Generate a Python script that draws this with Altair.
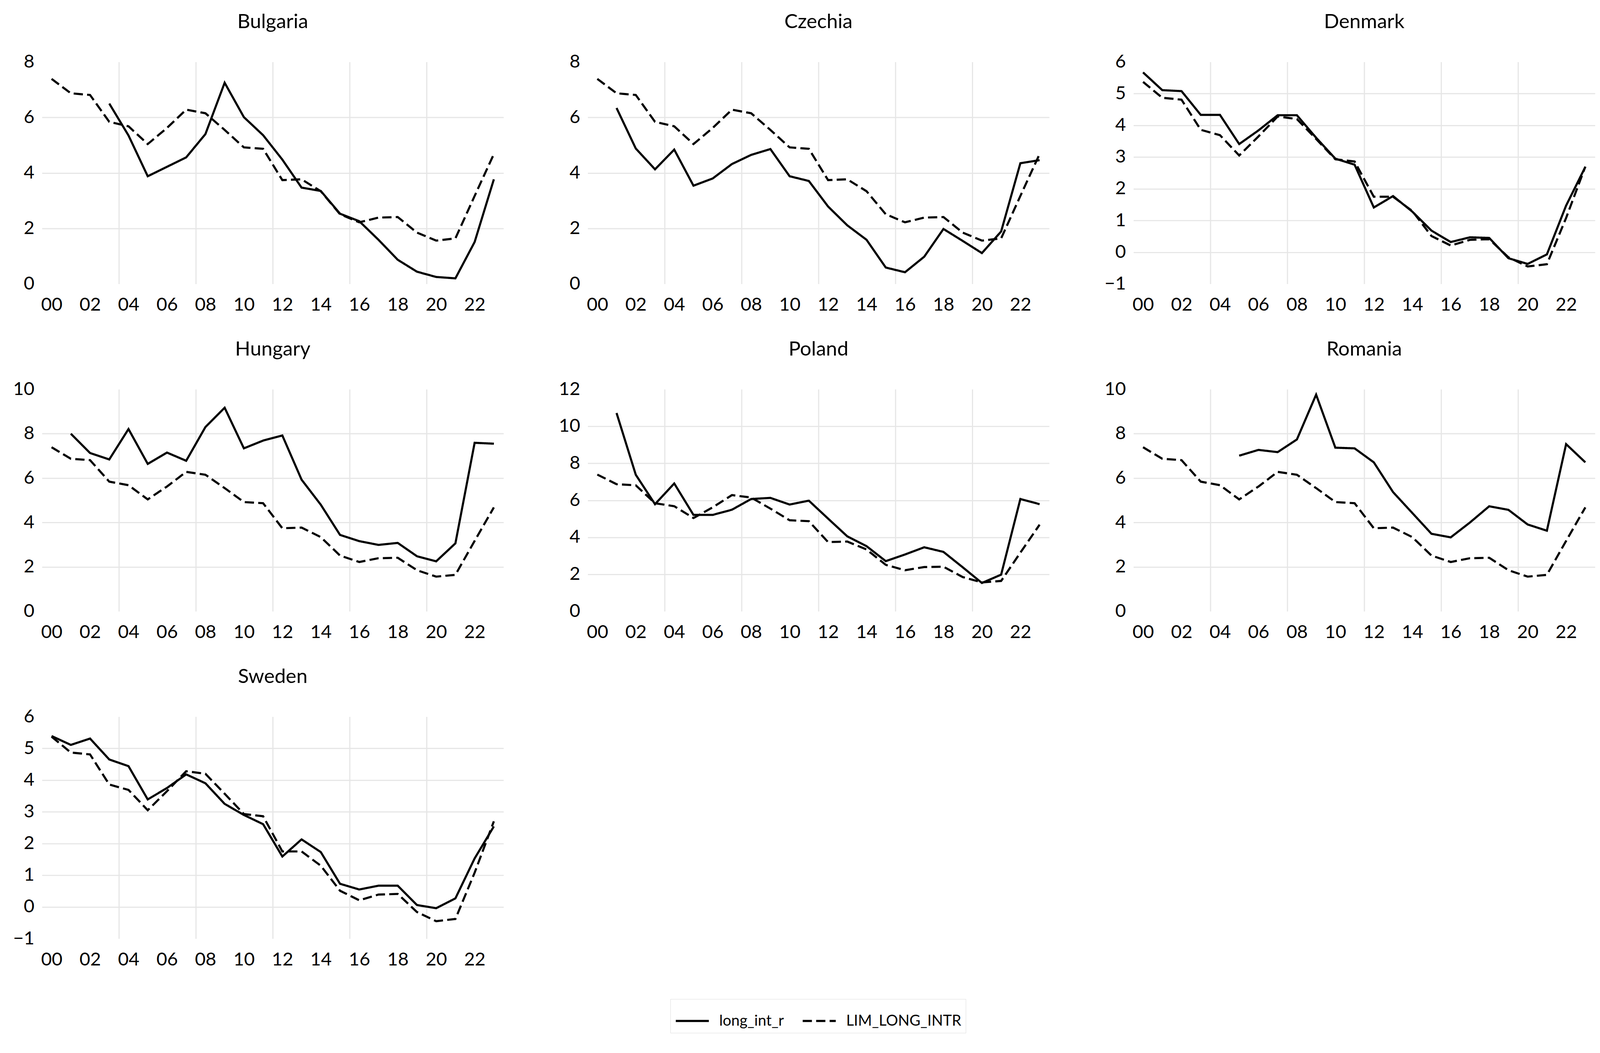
import altair as alt
import pandas as pd

years = list(range(0, 24))
countries = ["Bulgaria", "Czechia", "Denmark", "Hungary", "Poland", "Romania", "Sweden"]
series_names = ["long_int_r", "LIM_LONG_INTR"]

N = None
long_bg = [N, N, N, 6.50, 5.35, 3.88, 4.22, 4.56, 5.40, 7.25, 6.01, 5.36, 4.48, 3.47, 3.35, 2.53, 2.26, 1.59, 0.87, 0.44, 0.25, 0.20, 1.51, 3.77]
long_cz = [N, 6.34, 4.88, 4.13, 4.84, 3.54, 3.80, 4.32, 4.65, 4.86, 3.88, 3.71, 2.79, 2.11, 1.59, 0.59, 0.42, 0.98, 1.98, 1.55, 1.11, 1.89, 4.35, 4.46]
long_dk = [5.67, 5.11, 5.08, 4.33, 4.33, 3.41, 3.84, 4.32, 4.32, 3.61, 2.95, 2.76, 1.41, 1.77, 1.28, 0.68, 0.32, 0.47, 0.45, -0.19, -0.37, -0.07, 1.47, 2.69]
long_hu = [N, 8.00, 7.13, 6.84, 8.21, 6.64, 7.15, 6.78, 8.30, 9.17, 7.34, 7.69, 7.92, 5.93, 4.80, 3.44, 3.16, 2.99, 3.08, 2.48, 2.25, 3.06, 7.59, 7.55]
long_pl = [N, 10.72, 7.38, 5.79, 6.91, 5.21, 5.21, 5.49, 6.07, 6.13, 5.77, 5.98, 5.01, 4.05, 3.52, 2.71, 3.07, 3.46, 3.21, 2.38, 1.53, 1.98, 6.07, 5.79]
long_ro = [N, N, N, N, N, 7.01, 7.27, 7.17, 7.74, 9.76, 7.37, 7.34, 6.71, 5.37, 4.43, 3.49, 3.33, 4.00, 4.73, 4.57, 3.91, 3.63, 7.53, 6.71]
long_se = [5.39, 5.11, 5.31, 4.65, 4.44, 3.39, 3.75, 4.18, 3.90, 3.25, 2.90, 2.61, 1.59, 2.13, 1.73, 0.73, 0.55, 0.67, 0.67, 0.06, -0.04, 0.27, 1.53, 2.54]

lim_cee = [7.39, 6.87, 6.81, 5.84, 5.68, 5.04, 5.62, 6.28, 6.15, 5.55, 4.92, 4.87, 3.74, 3.77, 3.34, 2.51, 2.22, 2.39, 2.41, 1.85, 1.56, 1.64, 3.17, 4.68]
lim_nord = [5.37, 4.87, 4.81, 3.86, 3.69, 3.05, 3.65, 4.28, 4.20, 3.57, 2.93, 2.86, 1.75, 1.75, 1.30, 0.51, 0.21, 0.39, 0.41, -0.16, -0.45, -0.38, 1.08, 2.70]

long_vals = [long_bg, long_cz, long_dk, long_hu, long_pl, long_ro, long_se]
lim_vals = [lim_cee, lim_cee, lim_nord, lim_cee, lim_cee, lim_cee, lim_nord]
y_lo = [0, 0, -1, 0, 0, 0, -1]
y_hi = [8, 8, 6, 10, 12, 10, 6]
y_step = [2, 2, 1, 2, 2, 2, 1]

x_label_years = list(range(0, 23, 2))
x_grid_years = [3.5, 7.5, 11.5, 15.5, 19.5]

FONT = "Lato"
PW, PH = 1200, 577
GRID = "#e6e6e6"

legend = alt.Legend(
    orient="none", legendX=1634, legendY=2436, direction="horizontal", title=None,
    symbolType="stroke", symbolStrokeWidth=5.5, symbolSize=7400, symbolStrokeColor="black",
    labelFontSize=39, labelFont=FONT, labelColor="black", labelLimit=600,
    strokeColor="#dcdcdc", padding=11, columnPadding=36, labelOffset=24, symbolOpacity=1,
)

panels = []
for i, name in enumerate(countries):
    rows = []
    for s, vals in zip(series_names, [long_vals[i], lim_vals[i]]):
        for yr, v in zip(years, vals):
            if v is not None:
                rows.append({"year": yr, "value": v, "series": s})
    df = pd.DataFrame(rows)
    lo, hi, st = y_lo[i], y_hi[i], y_step[i]
    xscale = alt.Scale(domain=[-0.5, 23.5], nice=False, zero=False)
    lines = alt.Chart(df).mark_line(strokeWidth=5.5, color="black").encode(
        x=alt.X("year:Q", scale=xscale,
                axis=alt.Axis(orient="bottom", values=x_label_years, grid=False, ticks=False, domain=False,
                              title=None, labelFontSize=48, labelFont=FONT, labelColor="black",
                              labelPadding=31, labelExpr="datum.value < 10 ? '0' + datum.value : '' + datum.value",
                              minExtent=80, maxExtent=80)),
        y=alt.Y("value:Q", scale=alt.Scale(domain=[lo, hi], nice=False, zero=False),
                axis=alt.Axis(values=list(range(lo, hi + 1, st)), grid=True, gridColor=GRID, gridWidth=3,
                              gridOpacity=alt.condition(f"datum.value == {lo} || datum.value == {hi}", alt.value(0), alt.value(1)),
                              ticks=False, domain=False, title=None, labelFontSize=48, labelFont=FONT,
                              labelColor="black", labelPadding=20, minExtent=70, maxExtent=70)),
        strokeDash=alt.StrokeDash("series:N",
                                  scale=alt.Scale(domain=series_names, range=[[1, 0], [24, 11]]),
                                  legend=legend),
    )
    vgrid = alt.Chart(df).mark_rule(opacity=0).encode(
        x=alt.X("year:Q", scale=xscale,
                axis=alt.Axis(orient="top", values=x_grid_years, grid=True, gridColor=GRID, gridWidth=3,
                              labels=False, ticks=False, domain=False, title=None, minExtent=0, maxExtent=0)),
    )
    p = alt.layer(vgrid, lines).resolve_axis(x="independent").properties(
        width=PW, height=PH,
        title=alt.TitleParams(name, fontSize=52, fontWeight="normal", font=FONT, color="black",
                              anchor="middle", offset=53),
    )
    panels.append(p)

chart = alt.concat(*panels, columns=3, spacing={"row": 64, "column": 143}).resolve_scale(
    strokeDash="shared"
).properties(
    padding={"left": 25, "top": 2, "right": 5, "bottom": 5},
    background="white",
).configure_view(stroke=None)

chart.save("out.html", embed_options={"renderer": "svg", "actions": False})
